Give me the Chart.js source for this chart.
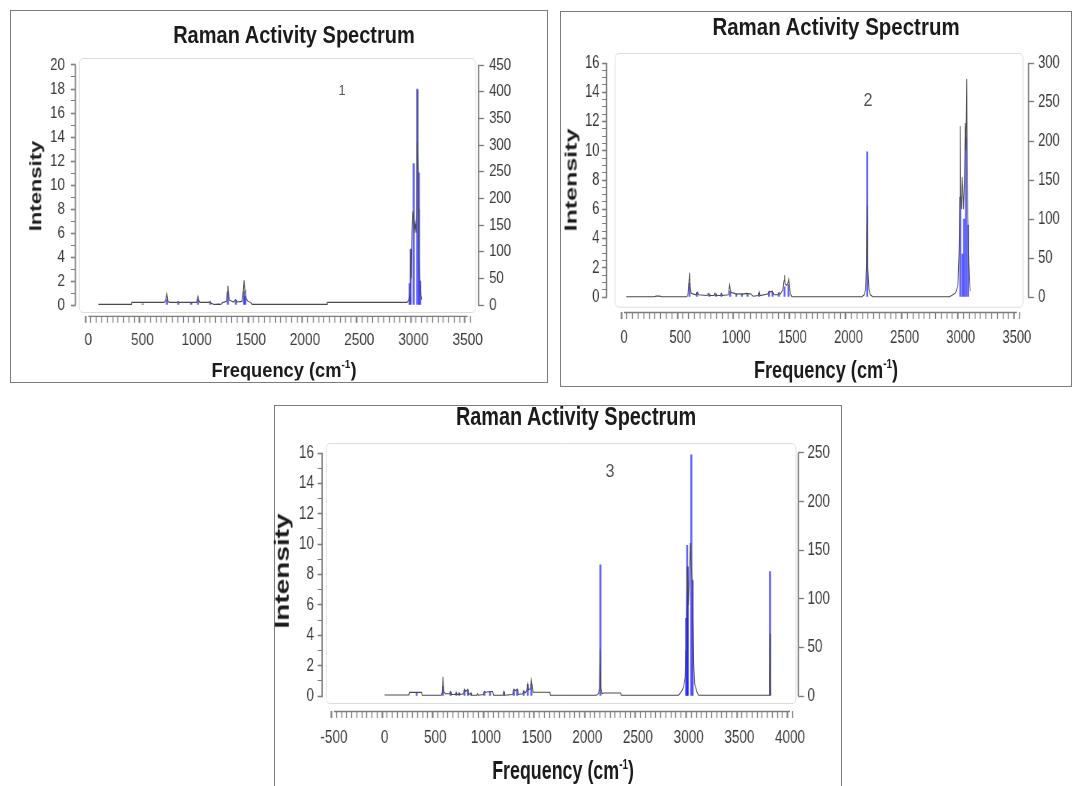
<!DOCTYPE html>
<html><head><meta charset="utf-8">
<script src="https://cdn.jsdelivr.net/npm/chart.js@4/dist/chart.umd.min.js"></script>
<style>
html,body{margin:0;padding:0;background:#fff;}
body{width:1078px;height:786px;overflow:hidden;position:relative;font-family:"Liberation Sans",Arial,sans-serif;}
.frame{position:absolute;border:1px solid #7c7c7c;box-sizing:border-box;}
.cv{position:absolute;transform-origin:0 0;}
.t{position:absolute;white-space:nowrap;line-height:1;color:#1b1b1b;}
.t sup{font-size:0.55em;vertical-align:0.75em;line-height:0;}
</style></head><body>
<script>
// ---------------- DATA ----------------
// Panel 1 : broadened spectrum [frequency, intensity (left axis)]
const p1Line = [[94,0.05],[398,0.05],[402,0.22],[700,0.22],[716,0.4],[725,0.9],[734,0.35],[745,0.22],[825,0.22],[831,0.3],[838,0.22],[1000,0.22],[1007,0.5],[1013,0.72],[1020,0.4],[1030,0.22],[1118,0.22],[1126,0.3],[1134,0.15],[1160,0.05],[1222,0.05],[1240,0.2],[1276,0.3],[1283,1.0],[1288,1.6],[1294,0.9],[1302,0.4],[1340,0.25],[1358,0.45],[1364,0.4],[1372,0.25],[1420,0.3],[1431,1.2],[1438,2.05],[1444,1.3],[1450,0.9],[1458,0.5],[1475,0.3],[1500,0.2],[1512,0.05],[2200,0.05],[2205,0.22],[2940,0.22],[2958,0.4],[2970,1.0],[2976,4.6],[2981,2.2],[2987,6.0],[2995,7.8],[3001,7.2],[3008,6.2],[3016,6.8],[3024,6.0],[3031,8.0],[3035,13.6],[3037,17.9],[3040,13.0],[3044,11.0],[3048,8.0],[3053,4.0],[3060,2.0],[3068,0.8],[3076,0.45]];
// Panel 1 : Raman activity sticks [frequency, activity (right axis)]
const p1Sticks = [[503,2],[725,10],[831,3],[950,3],[1013,10],[1126,4],[1202,2],[1288,25],[1362,8],[1438,25],[1448,16],[2965,40],[2974,105],[3002,265],[3035,405],[3050,248],[3062,45]];
const p1XTickLabels = [0,500,1000,1500,2000,2500,3000,3500];
const p1YTickLabels = [0,2,4,6,8,10,12,14,16,18,20];
const p1Y2TickLabels = [0,50,100,150,200,250,300,350,400,450];

// Panel 2
const p2Line = [[20,0.02],[270,0.02],[285,0.06],[320,0.06],[330,0.02],[560,0.02],[570,0.2],[577,0.8],[583,1.66],[589,0.7],[598,0.25],[640,0.15],[655,0.35],[665,0.15],[742,0.1],[750,0.25],[758,0.1],[802,0.1],[809,0.25],[816,0.1],[860,0.1],[867,0.25],[874,0.1],[930,0.15],[940,0.82],[946,0.5],[955,0.3],[985,0.25],[1000,0.2],[1030,0.22],[1060,0.2],[1090,0.25],[1130,0.2],[1150,0.05],[1195,0.1],[1204,0.35],[1212,0.1],[1280,0.2],[1292,0.4],[1305,0.35],[1322,0.4],[1335,0.15],[1370,0.15],[1380,0.3],[1392,0.2],[1415,0.5],[1425,1.1],[1430,1.5],[1436,0.9],[1448,0.8],[1462,1.0],[1468,1.2],[1474,0.6],[1485,0.2],[1495,0.02],[2120,0.02],[2140,0.15],[2152,0.5],[2160,2.2],[2166,6.3],[2172,2.0],[2182,0.5],[2195,0.15],[2215,0.02],[2900,0.02],[2930,0.15],[2955,0.3],[2975,0.8],[2985,3.0],[2992,6.8],[2996,11.7],[3000,7.0],[3006,6.0],[3012,8.2],[3018,7.5],[3025,6.0],[3033,8.0],[3040,11.9],[3046,10.0],[3053,14.9],[3058,8.0],[3065,4.9],[3072,2.3],[3078,1.0],[3085,0.4]];
const p2Sticks = [[583,17.6],[650,6],[760,4],[820,4],[867,4],[946,7.5],[1000,4],[1050,4],[1100,4],[1204,5],[1292,6],[1322,6],[1380,4],[1430,13],[1465,16],[2167,186],[2996,128],[3015,55],[3030,100],[3047,205],[3065,92]];
const p2XTickLabels = [0,500,1000,1500,2000,2500,3000,3500];
const p2YTickLabels = [0,2,4,6,8,10,12,14,16];
const p2Y2TickLabels = [0,50,100,150,200,250,300];

// Panel 3
const p3Line = [[0,0.07],[240,0.07],[245,0.24],[365,0.24],[370,0.05],[560,0.05],[570,0.3],[576,1.27],[582,0.3],[600,0.15],[645,0.15],[651,0.3],[660,0.1],[700,0.1],[707,0.25],[715,0.1],[730,0.1],[736,0.2],[745,0.1],[780,0.15],[788,0.45],[800,0.3],[821,0.45],[830,0.1],[853,0.2],[860,0.05],[912,0.05],[918,0.15],[925,0.05],[975,0.1],[985,0.3],[1000,0.25],[1040,0.3],[1065,0.3],[1075,0.05],[1170,0.05],[1178,0.3],[1186,0.05],[1265,0.1],[1276,0.45],[1290,0.35],[1309,0.45],[1320,0.1],[1365,0.15],[1373,0.35],[1385,0.2],[1400,0.3],[1412,0.8],[1420,0.4],[1440,0.5],[1448,1.05],[1456,0.6],[1465,0.25],[1630,0.25],[1635,0.05],[2090,0.05],[2110,0.15],[2120,0.5],[2126,3.1],[2132,0.5],[2145,0.15],[2160,0.2],[2330,0.2],[2335,0.05],[2900,0.05],[2930,0.3],[2950,0.6],[2965,1.2],[2972,3.0],[2978,5.0],[2985,8.5],[2991,7.5],[2998,6.0],[3008,8.0],[3016,10.07],[3022,9.0],[3030,8.0],[3036,7.6],[3042,5.0],[3050,2.0],[3058,0.8],[3068,0.6],[3080,0.3],[3097,0.05],[3795,0.05],[3799,1.0],[3803,4.1],[3807,1.0],[3812,0.05]];
const p3Sticks = [[316,3],[576,9.5],[651,4],[707,3],[736,3],[788,6],[821,6],[853,3],[985,4],[1040,4],[1178,4],[1276,6],[1309,6],[1373,5],[1412,12],[1448,12],[2129,135],[2975,80],[2985,155],[2991,133],[3026,248],[3039,119],[3803,128]];
const p3XTickLabels = [-500,0,500,1000,1500,2000,2500,3000,3500,4000];
const p3YTickLabels = [0,2,4,6,8,10,12,14,16];
const p3Y2TickLabels = [0,50,100,150,200,250];

const TITLE = 'Raman Activity Spectrum';
const YTITLE = 'Intensity';
const XTITLE = 'Frequency (cm<sup>-1</sup>)';

// ---------------- LAYOUT ----------------
const TICKFONT = '"Liberation Sans",Arial,sans-serif';
const panels = [
  { frame:[10,10,538,373], canvas:[10,10,538,373], sq:0.8,
    x0:0, x0px:85.4, x1:3500, x1px:469.7, xMinor:50,
    y0px:305, y1:20, y1px:65, yMinor:1, factor:22.5,
    area:{L:75.7,R:477.3,T:58,B:315.8}, box:[3.3,2.3,0,3.8],
    yTick:{len:5,pad:6,size:16.5}, y2Tick:{len:6,pad:5,size:16.5}, xTick:{len:7,pad:7,size:17},
    line:p1Line, sticks:p1Sticks, xl:p1XTickLabels, yl:p1YTickLabels, y2l:p1Y2TickLabels,
    title:[293.5,35,23,0.87], ytitle:[36,185.5,22,0.75], xtitle:[284,369,21,0.87], num:['1',342,90,14] },
  { frame:[560,11,512,376], canvas:[560,11,512,376], sq:0.72,
    x0:0, x0px:621.3, x1:3500, x1px:1019.7, xMinor:50,
    y0px:297, y1:16, y1px:63, yMinor:0.5, factor:18.75,
    area:{L:607,R:1028,T:53,B:312}, box:[8,5,0,5.3],
    yTick:{len:5,pad:2.5,size:18}, y2Tick:{len:6,pad:4,size:18}, xTick:{len:7,pad:8,size:18},
    line:p2Line, sticks:p2Sticks, xl:p2XTickLabels, yl:p2YTickLabels, y2l:p2Y2TickLabels,
    title:[836,27,23,0.89], ytitle:[570.5,180,25,0.65], xtitle:[826,370,23,0.79], num:['2',868,100,18] },
  { frame:[274,405,568,395], canvas:[274,405,568,381], sq:0.75,
    x0:-500, x0px:331.4, x1:4000, x1px:792.6, xMinor:50,
    y0px:696, y1:16, y1px:453, yMinor:1, factor:15.625,
    area:{L:322.6,R:798,T:443,B:711}, box:[3.5,2,0,8],
    yTick:{len:5,pad:3.6,size:18}, y2Tick:{len:6,pad:3.5,size:18}, xTick:{len:7,pad:9,size:18},
    line:p3Line, sticks:p3Sticks, xl:p3XTickLabels, yl:p3YTickLabels, y2l:p3Y2TickLabels,
    title:[576,416.5,25.5,0.78], ytitle:[282.3,571,28,0.7], xtitle:[563,771,25.5,0.7], num:['3',609.5,471,18] }
];

// ---------------- helpers ----------------
function addText(html, cx, cy, size, sx, opts) {
  const d = document.createElement('div');
  d.className = 't';
  d.innerHTML = html;
  d.style.left = cx + 'px'; d.style.top = cy + 'px';
  d.style.fontSize = size + 'px';
  d.style.fontWeight = (opts && opts.weight) || 'bold';
  if (opts && opts.color) d.style.color = opts.color;
  d.style.transform = (opts && opts.vertical)
    ? 'translate(-50%,-50%) rotate(-90deg) scaleY(' + sx + ')'
    : 'translate(-50%,-50%) scaleX(' + sx + ')';
  document.body.appendChild(d);
}

const axisDeco = {
  id: 'axisDeco',
  beforeDatasetsDraw(chart, args, o) {
    const a = chart.chartArea, ctx = chart.ctx, b = o.box, s = o.sq;
    const l = a.left + b[0] / s, r = a.right - b[1] / s, t = a.top + b[2], bt = a.bottom - b[3];
    ctx.save();
    ctx.strokeStyle = '#dcdcdc'; ctx.lineWidth = 1;
    ctx.beginPath();
    ctx.roundRect(l, t + 0.5, r - l, bt - t, 5);
    ctx.stroke();
    ctx.restore();
  },
  afterDraw(chart, args, o) {
    const a = chart.chartArea, ctx = chart.ctx, sc = chart.scales, s = o.sq;
    const px = (S, i) => S.getPixelForValue(S.ticks[i].value);
    ctx.save();
    ctx.strokeStyle = '#7d7d7d';
    ctx.lineWidth = 1.3;
    ctx.beginPath();
    ctx.moveTo(px(sc.x, 0), a.bottom + 0.5); ctx.lineTo(px(sc.x, sc.x.ticks.length - 1), a.bottom + 0.5);
    ctx.stroke();
    ctx.lineWidth = 1.3 / s;
    ctx.beginPath();
    ctx.moveTo(a.left - 0.5 / s, px(sc.y, 0)); ctx.lineTo(a.left - 0.5 / s, px(sc.y, sc.y.ticks.length - 1));
    ctx.moveTo(a.right + 0.5 / s, px(sc.y2, 0)); ctx.lineTo(a.right + 0.5 / s, px(sc.y2, sc.y2.ticks.length - 1));
    ctx.stroke();
    ctx.restore();
  }
};

function makePanel(P) {
  const f = document.createElement('div');
  f.className = 'frame';
  Object.assign(f.style, {left:P.frame[0]+'px', top:P.frame[1]+'px', width:P.frame[2]+'px', height:P.frame[3]+'px'});
  document.body.appendChild(f);

  const s = P.sq;               // horizontal squeeze of the whole canvas (reference is horizontally compressed)
  const [cx, cy, cw, ch] = P.canvas;
  const holder = document.createElement('div');
  holder.className = 'cv';
  Object.assign(holder.style, {left:cx+'px', top:cy+'px', width:(cw/s)+'px', height:ch+'px', transform:'scaleX(' + s + ')'});
  const c = document.createElement('canvas');
  holder.appendChild(c);
  document.body.appendChild(holder);

  const A = P.area;
  const xPer = (P.x1px - P.x0px) / (P.x1 - P.x0);
  const xmin = P.x0 + (A.L - P.x0px) / xPer;
  const xmax = P.x0 + (A.R - P.x0px) / xPer;
  const yPer = (P.y0px - P.y1px) / P.y1;
  const ymin = -(A.B - P.y0px) / yPer;
  const ymax = (P.y0px - A.T) / yPer;

  // tick positions (axis decoration only)
  const xTicks = [];
  for (let v = P.xl[0]; v <= P.xl[P.xl.length - 1] + 1e-9; v += P.xMinor) xTicks.push(Math.round(v));
  const yTicks = [];
  const nY = Math.round(P.yl[P.yl.length - 1] / P.yMinor);
  for (let i = 0; i <= nY; i++) yTicks.push(i * P.yMinor);
  const xMaj = new Set(P.xl), yMaj = new Set(P.yl);

  const tickFont = sz => ({ family: TICKFONT, size: sz });
  const axisCol = '#7d7d7d', labCol = '#3c3c3c';

  new Chart(c, {
    type: 'bar',
    data: {
      datasets: [
        { type: 'line', data: P.line.map(p => ({x:p[0], y:p[1]})), yAxisID: 'y', xAxisID: 'x',
          borderColor: '#4a4a4a', borderWidth: 1.1, pointRadius: 0, tension: 0, fill: false, order: 0 },
        { type: 'bar', data: P.sticks.map(p => ({x:p[0], y:p[1]})), yAxisID: 'y2', xAxisID: 'x',
          backgroundColor: 'rgba(0,0,255,0.62)', borderWidth: 0, barThickness: 1.5 / s, order: 1 }
      ]
    },
    options: {
      responsive: true, maintainAspectRatio: false, animation: false, devicePixelRatio: 1, events: [],
      layout: { padding: { top: A.T - cy, left: 0, right: 0, bottom: 0 } },
      plugins: { legend: {display:false}, tooltip: {enabled:false}, title: {display:false},
                 axisDeco: { box: P.box, sq: s } },
      scales: {
        x: { type: 'linear', position: 'bottom', min: xmin, max: xmax,
             afterBuildTicks: ax => { ax.ticks = xTicks.map(v => ({value: v})); },
             afterFit: ax => { ax.height = (cy + ch) - A.B; },
             border: { display: false },
             grid: { display: true, drawOnChartArea: false, drawTicks: true, tickLength: P.xTick.len,
                     tickColor: axisCol, tickWidth: ctx => (xMaj.has(ctx.tick && ctx.tick.value) ? 1.6 : 1) / s },
             ticks: { autoSkip: false, maxRotation: 0, minRotation: 0, padding: P.xTick.pad, color: labCol,
                      font: tickFont(P.xTick.size), callback: v => xMaj.has(v) ? String(v) : '' } },
        y: { type: 'linear', position: 'left', min: ymin, max: ymax,
             afterBuildTicks: ax => { ax.ticks = yTicks.map(v => ({value: v})); },
             afterFit: ax => { ax.width = (A.L - cx) / s; },
             border: { display: false },
             grid: { display: true, drawOnChartArea: false, drawTicks: true, tickLength: P.yTick.len / s,
                     tickColor: axisCol, tickWidth: ctx => yMaj.has(ctx.tick && ctx.tick.value) ? 1.6 : 1 },
             ticks: { autoSkip: false, padding: P.yTick.pad / s, color: labCol, font: tickFont(P.yTick.size),
                      callback: v => yMaj.has(v) ? String(v) : '' } },
        y2: { type: 'linear', position: 'right', min: ymin * P.factor, max: ymax * P.factor,
             afterBuildTicks: ax => { ax.ticks = P.y2l.map(v => ({value: v})); },
             afterFit: ax => { ax.width = ((cx + cw) - A.R) / s; },
             border: { display: false },
             grid: { display: true, drawOnChartArea: false, drawTicks: true, tickLength: P.y2Tick.len / s,
                     tickColor: axisCol, tickWidth: 1.4 },
             ticks: { autoSkip: false, padding: P.y2Tick.pad / s, color: labCol, font: tickFont(P.y2Tick.size),
                      callback: v => String(v) } }
      }
    },
    plugins: [axisDeco]
  });

  addText(TITLE, P.title[0], P.title[1], P.title[2], P.title[3]);
  addText(YTITLE, P.ytitle[0], P.ytitle[1], P.ytitle[2], P.ytitle[3], {vertical:true});
  addText(XTITLE, P.xtitle[0], P.xtitle[1], P.xtitle[2], P.xtitle[3]);
  addText(P.num[0], P.num[1], P.num[2], P.num[3], 0.9, {weight:'normal', color:'#555'});
}

panels.forEach(makePanel);
</script>
</body></html>
